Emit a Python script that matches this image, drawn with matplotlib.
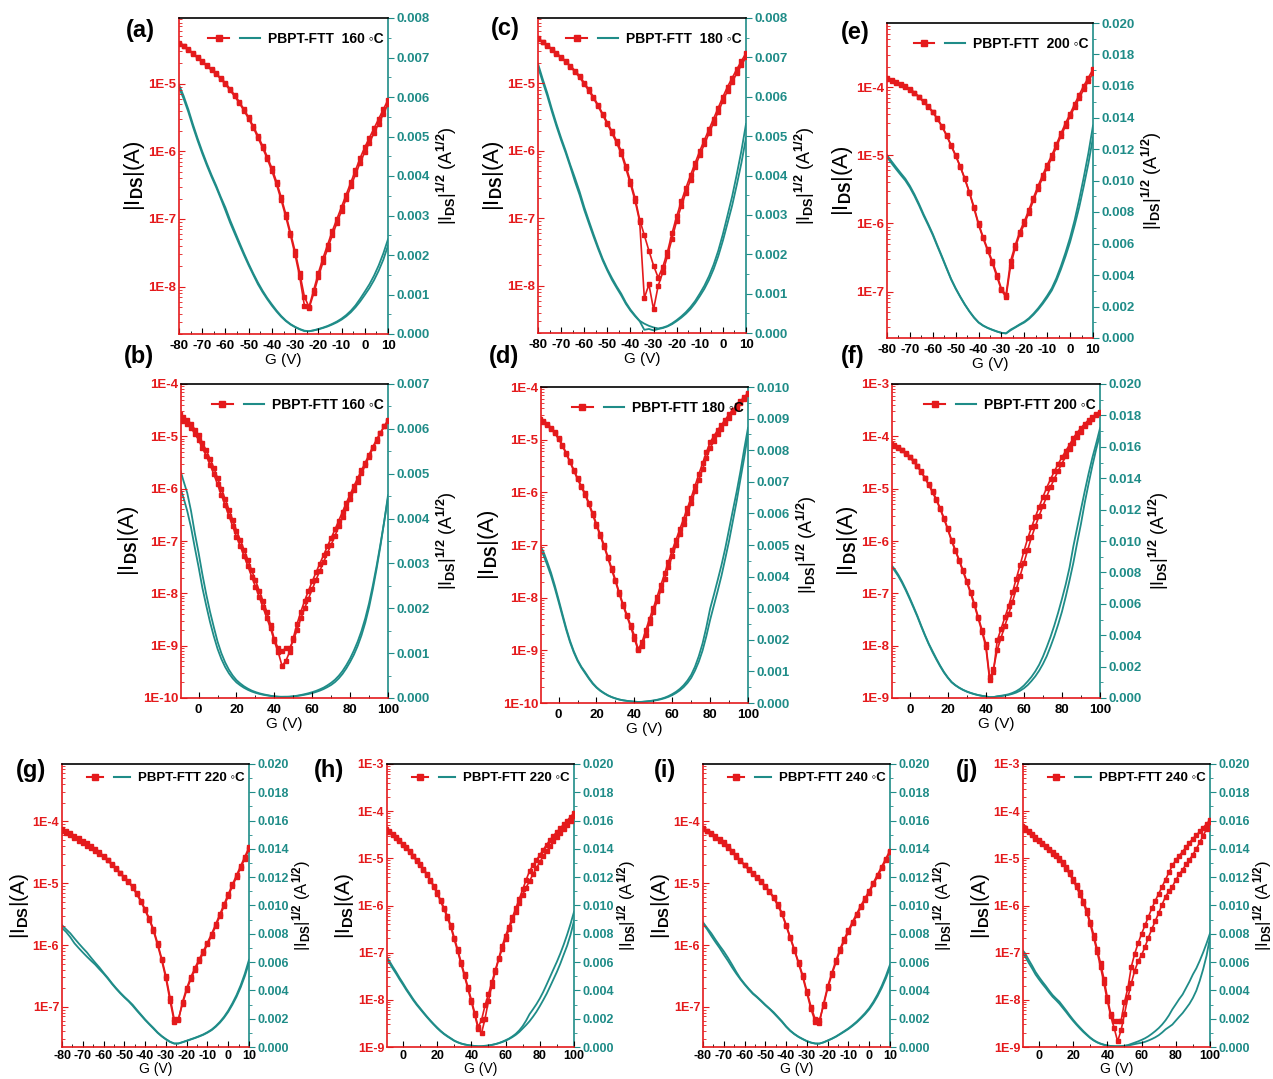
import numpy as np
import matplotlib.pyplot as plt
from matplotlib.lines import Line2D
from matplotlib.legend_handler import HandlerTuple
from matplotlib.ticker import FixedLocator, FuncFormatter, NullFormatter, FormatStrFormatter

plt.rcParams["font.family"] = ["Liberation Sans", "DejaVu Sans"]
plt.rcParams["font.weight"] = "bold"
plt.rcParams["axes.unicode_minus"] = False
plt.rcParams["mathtext.fontset"] = "custom"
plt.rcParams["mathtext.rm"] = "Liberation Sans:bold"
plt.rcParams["mathtext.bf"] = "Liberation Sans:bold"
plt.rcParams["mathtext.it"] = "Liberation Sans:bold"

RED = "#e41a1c"
TEAL = "#1f8c88"

# gate voltage sweeps, 2 V steps
vg_neg = np.arange(-80, 11, 2)
vg_pos = np.arange(-10, 101, 2)

# log10 |I_DS| (A), two sweep directions per device
a_s1 = [-4.40, -4.44, -4.49, -4.55, -4.61, -4.67, -4.73, -4.79, -4.85, -4.92, -4.99, -5.08, -5.17, -5.27, -5.38,
        -5.50, -5.63, -5.77, -5.92, -6.08, -6.25, -6.45, -6.68, -6.93, -7.20, -7.48, -7.80, -8.15, -8.30,
        -8.05, -7.80, -7.58, -7.38, -7.18, -7.00, -6.82, -6.64, -6.46, -6.28, -6.10, -5.94, -5.80, -5.66, -5.52,
        -5.38, -5.24]
a_s2 = [-4.41, -4.45, -4.50, -4.56, -4.62, -4.68, -4.74, -4.80, -4.86, -4.93, -5.01, -5.10, -5.19, -5.29, -5.40,
        -5.52, -5.65, -5.80, -5.95, -6.11, -6.29, -6.49, -6.72, -6.97, -7.24, -7.53, -7.86, -8.28, -8.32,
        -8.10, -7.86, -7.64, -7.44, -7.24, -7.06, -6.88, -6.70, -6.52, -6.34, -6.17, -6.01, -5.87, -5.73, -5.59,
        -5.45, -5.30]

c_s1 = [-4.33, -4.38, -4.43, -4.49, -4.55, -4.61, -4.67, -4.74, -4.81, -4.89, -4.99, -5.09, -5.20, -5.32, -5.45,
        -5.58, -5.71, -5.85, -6.00, -6.22, -6.45, -6.70, -7.02, -7.25, -7.48, -7.70, -7.88,
        -7.72, -7.50, -7.22, -6.97, -6.75, -6.55, -6.36, -6.18, -6.00, -5.84, -5.68, -5.52, -5.36, -5.20, -5.05,
        -4.92, -4.79, -4.67, -4.55]
c_s2 = [-4.34, -4.39, -4.44, -4.50, -4.56, -4.62, -4.68, -4.75, -4.83, -4.91, -5.01, -5.11, -5.22, -5.34, -5.47,
        -5.60, -5.74, -5.88, -6.04, -6.26, -6.49, -6.74, -7.05, -8.18, -7.98, -8.35, -8.00,
        -7.80, -7.56, -7.30, -7.04, -6.82, -6.62, -6.43, -6.24, -6.06, -5.90, -5.74, -5.58, -5.42, -5.26, -5.11,
        -4.98, -4.85, -4.73, -4.61]

e_s1 = [-3.87, -3.90, -3.93, -3.96, -3.99, -4.03, -4.08, -4.14, -4.21, -4.28, -4.36, -4.46, -4.57, -4.70, -4.85,
        -5.00, -5.16, -5.34, -5.54, -5.76, -6.00, -6.20, -6.38, -6.55, -6.75, -6.96, -7.05,
        -6.55, -6.32, -6.12, -5.97, -5.80, -5.62, -5.45, -5.29, -5.14, -5.00, -4.84, -4.68, -4.53, -4.39, -4.25,
        -4.11, -3.98, -3.86, -3.74]
e_s2 = [-3.88, -3.91, -3.94, -3.97, -4.00, -4.04, -4.09, -4.15, -4.22, -4.29, -4.37, -4.47, -4.58, -4.71, -4.86,
        -5.01, -5.17, -5.35, -5.55, -5.78, -6.02, -6.22, -6.40, -6.58, -6.78, -6.98, -7.08,
        -6.62, -6.36, -6.16, -6.01, -5.84, -5.66, -5.49, -5.33, -5.18, -5.04, -4.88, -4.72, -4.57, -4.43, -4.29,
        -4.16, -4.03, -3.91, -3.79]

b_s1 = [-4.58, -4.63, -4.68, -4.76, -4.87, -4.98, -5.12, -5.27, -5.43, -5.60, -5.80, -6.00, -6.20, -6.40, -6.60,
        -6.80, -6.98, -7.17, -7.36, -7.56, -7.75, -7.95, -8.15, -8.35, -8.60,
        -8.88, -9.05, -9.10, -9.05, -9.05, -8.90, -8.70, -8.48, -8.28, -8.10, -7.92, -7.74, -7.57, -7.40, -7.23,
        -7.07, -6.90, -6.72, -6.54, -6.36, -6.19, -6.03, -5.87, -5.71, -5.55, -5.39, -5.23, -5.08, -4.94, -4.81,
        -4.69]
b_s2 = [-4.65, -4.70, -4.76, -4.84, -4.95, -5.07, -5.22, -5.37, -5.54, -5.72, -5.92, -6.12, -6.32, -6.52, -6.72,
        -6.92, -7.10, -7.29, -7.48, -7.68, -7.87, -8.07, -8.27, -8.47, -8.67,
        -8.92, -9.12, -9.38, -9.30, -9.12, -8.85, -8.58, -8.35, -8.14, -7.95, -7.77, -7.60, -7.43, -7.27, -7.10,
        -6.94, -6.78, -6.61, -6.44, -6.27, -6.11, -5.95, -5.80, -5.65, -5.50, -5.35, -5.20, -5.06, -4.93, -4.81,
        -4.70]

d_s1 = [-4.60, -4.64, -4.70, -4.77, -4.86, -4.97, -5.10, -5.25, -5.41, -5.57, -5.73, -5.88, -6.02, -6.20, -6.40,
        -6.60, -6.80, -7.00, -7.22, -7.44, -7.66, -7.90, -8.12, -8.32, -8.52, -8.72,
        -8.98, -8.85, -8.62, -8.40, -8.20, -7.98, -7.76, -7.54, -7.32, -7.10, -6.90, -6.70, -6.50, -6.30, -6.10,
        -5.88, -5.66, -5.45, -5.24, -5.05, -4.93, -4.82, -4.72, -4.62, -4.52, -4.43, -4.35, -4.27, -4.19, -4.12]
d_s2 = [-4.62, -4.66, -4.72, -4.79, -4.88, -4.99, -5.12, -5.27, -5.43, -5.59, -5.75, -5.90, -6.05, -6.23, -6.43,
        -6.63, -6.83, -7.03, -7.25, -7.47, -7.69, -7.93, -8.15, -8.35, -8.55, -8.78,
        -9.00, -8.92, -8.70, -8.48, -8.28, -8.07, -7.86, -7.64, -7.42, -7.21, -7.00, -6.80, -6.60, -6.40, -6.20,
        -5.98, -5.77, -5.56, -5.35, -5.16, -5.02, -4.90, -4.79, -4.68, -4.58, -4.48, -4.39, -4.30, -4.22, -4.14]

f_s1 = [-4.14, -4.17, -4.21, -4.26, -4.32, -4.39, -4.47, -4.56, -4.67, -4.79, -4.92, -5.05, -5.20, -5.37, -5.56,
        -5.76, -5.98, -6.17, -6.36, -6.56, -6.76, -6.97, -7.20, -7.45, -7.70, -7.97,
        -8.60, -8.50, -7.90, -7.68, -7.46, -7.24, -6.98, -6.72, -6.46, -6.20, -5.95, -5.74, -5.54, -5.35, -5.16,
        -4.98, -4.82, -4.67, -4.53, -4.40, -4.28, -4.16, -4.03, -3.93, -3.84, -3.76, -3.69, -3.63, -3.58, -3.53]
f_s2 = [-4.15, -4.18, -4.22, -4.27, -4.33, -4.40, -4.48, -4.57, -4.68, -4.80, -4.93, -5.07, -5.22, -5.39, -5.58,
        -5.78, -6.00, -6.19, -6.38, -6.58, -6.79, -7.00, -7.23, -7.48, -7.74, -8.02,
        -8.65, -8.45, -8.08, -7.85, -7.62, -7.40, -7.16, -6.92, -6.67, -6.42, -6.17, -5.93, -5.72, -5.52, -5.33,
        -5.15, -4.97, -4.81, -4.66, -4.52, -4.38, -4.25, -4.13, -4.01, -3.91, -3.81, -3.73, -3.66, -3.60, -3.55]

g_s1 = [-4.13, -4.16, -4.19, -4.23, -4.27, -4.31, -4.35, -4.40, -4.45, -4.50, -4.56, -4.62, -4.69, -4.76, -4.83,
        -4.90, -4.97, -5.05, -5.16, -5.28, -5.42, -5.57, -5.74, -5.97, -6.22, -6.50, -6.85, -7.20, -7.22,
        -6.92, -6.70, -6.52, -6.37, -6.23, -6.10, -5.96, -5.82, -5.66, -5.50, -5.34, -5.18, -5.02, -4.87, -4.72,
        -4.57, -4.42]
g_s2 = [-4.15, -4.18, -4.22, -4.27, -4.31, -4.35, -4.39, -4.43, -4.47, -4.52, -4.57, -4.63, -4.70, -4.77, -4.84,
        -4.91, -4.98, -5.07, -5.18, -5.30, -5.44, -5.59, -5.77, -6.00, -6.25, -6.54, -6.90, -7.24, -7.20,
        -6.95, -6.73, -6.55, -6.40, -6.26, -6.13, -5.99, -5.85, -5.69, -5.53, -5.37, -5.21, -5.05, -4.90, -4.75,
        -4.60, -4.45]

h_s1 = [-4.38, -4.43, -4.49, -4.55, -4.62, -4.69, -4.77, -4.85, -4.94, -5.03, -5.12, -5.22, -5.33, -5.45, -5.58,
        -5.72, -5.88, -6.05, -6.22, -6.42, -6.68, -6.93, -7.20, -7.46, -7.73, -8.00, -8.28, -8.58,
        -8.42, -8.12, -7.88, -7.62, -7.37, -7.12, -6.86, -6.64, -6.45, -6.25, -6.06, -5.86, -5.66, -5.46, -5.27,
        -5.15, -5.04, -4.93, -4.82, -4.71, -4.61, -4.52, -4.44, -4.36, -4.28, -4.20, -4.12, -4.04]
h_s2 = [-4.40, -4.45, -4.51, -4.57, -4.64, -4.71, -4.79, -4.87, -4.96, -5.05, -5.14, -5.24, -5.35, -5.47, -5.60,
        -5.75, -5.91, -6.08, -6.26, -6.46, -6.72, -6.97, -7.24, -7.50, -7.77, -8.04, -8.32, -8.62,
        -8.70, -8.40, -8.02, -7.70, -7.40, -7.14, -6.92, -6.71, -6.50, -6.31, -6.13, -5.95, -5.77, -5.62, -5.48,
        -5.34, -5.21, -5.08, -4.96, -4.85, -4.74, -4.64, -4.55, -4.46, -4.37, -4.29, -4.20, -4.10]

i_s1 = [-4.11, -4.15, -4.19, -4.24, -4.29, -4.34, -4.40, -4.47, -4.55, -4.63, -4.70, -4.77, -4.84, -4.90, -4.97,
        -5.05, -5.13, -5.22, -5.34, -5.48, -5.67, -5.87, -6.07, -6.28, -6.49, -6.75, -7.00, -7.20, -7.26,
        -6.95, -6.67, -6.45, -6.25, -6.06, -5.90, -5.76, -5.62, -5.49, -5.36, -5.24, -5.12, -4.99, -4.86, -4.73,
        -4.60, -4.47]
i_s2 = [-4.12, -4.16, -4.21, -4.26, -4.31, -4.37, -4.43, -4.50, -4.57, -4.64, -4.71, -4.78, -4.85, -4.91, -4.98,
        -5.06, -5.14, -5.24, -5.36, -5.50, -5.69, -5.89, -6.09, -6.30, -6.52, -6.78, -7.04, -7.24, -7.22,
        -6.98, -6.70, -6.48, -6.28, -6.09, -5.93, -5.79, -5.65, -5.52, -5.39, -5.27, -5.15, -5.02, -4.89, -4.76,
        -4.63, -4.50]

j_s1 = [-4.32, -4.36, -4.42, -4.48, -4.55, -4.61, -4.67, -4.73, -4.80, -4.87, -4.93, -4.99, -5.08, -5.18, -5.30,
        -5.43, -5.57, -5.72, -5.90, -6.10, -6.35, -6.62, -6.92, -7.22, -7.55, -7.95, -8.30,
        -8.45, -8.45, -8.45, -8.05, -7.75, -7.30, -7.02, -6.80, -6.60, -6.42, -6.24, -6.06, -5.90, -5.75, -5.60,
        -5.45, -5.30, -5.15, -5.04, -4.94, -4.86, -4.76, -4.67, -4.58, -4.51, -4.43, -4.35, -4.27, -4.19]
j_s2 = [-4.34, -4.39, -4.45, -4.51, -4.58, -4.64, -4.70, -4.76, -4.83, -4.90, -4.96, -5.03, -5.12, -5.22, -5.34,
        -5.47, -5.61, -5.77, -5.95, -6.15, -6.40, -6.68, -6.98, -7.30, -7.65, -8.02, -8.35,
        -8.60, -8.88, -8.65, -8.30, -7.95, -7.65, -7.38, -7.18, -7.05, -6.88, -6.68, -6.50, -6.33, -6.16, -5.98,
        -5.81, -5.70, -5.60, -5.46, -5.34, -5.24, -5.13, -5.03, -4.92, -4.80, -4.66, -4.52, -4.38, -4.22]

# x tick values for the two sweep ranges
ticks_neg = [-80, -70, -60, -50, -40, -30, -20, -10, 0, 10]
ticks_pos = [0, 20, 40, 60, 80, 100]

W, H = 1273, 1079
fig = plt.figure(figsize=(W / 100, H / 100), dpi=100)


def px_rect(x0, y0, x1, y1):
    return [x0 / W, 1 - y1 / H, (x1 - x0) / W, (y1 - y0) / H]


def inside(vals, lo, hi):
    eps = 1e-9 * max(abs(lo), abs(hi), 1e-12)
    return [v for v in vals if lo - eps <= v <= hi + eps]


panels = [
    dict(tag="(a)", tag_xy=(126, 30), box=(179, 18, 388, 334), vg=vg_neg, sweeps=(a_s1, a_s2),
         ylog=(-8.70, -4.03), rmax=0.008, rstep=0.001, legend="PBPT-FTT  160 \u25e6C", big=True),
    dict(tag="(c)", tag_xy=(491, 28), box=(538, 18, 746, 333), vg=vg_neg, sweeps=(c_s1, c_s2),
         ylog=(-8.70, -4.03), rmax=0.008, rstep=0.001, legend="PBPT-FTT  180 \u25e6C", big=True),
    dict(tag="(e)", tag_xy=(841, 33), box=(887, 23, 1093, 338), vg=vg_neg, sweeps=(e_s1, e_s2),
         ylog=(-7.68, -3.06), rmax=0.020, rstep=0.002, legend="PBPT-FTT  200 \u25e6C", big=True),
    dict(tag="(b)", tag_xy=(124, 356), box=(181, 384, 388, 698), vg=vg_pos, sweeps=(b_s1, b_s2),
         ylog=(-10, -4), rmax=0.007, rstep=0.001, legend="PBPT-FTT 160 \u25e6C", big=True),
    dict(tag="(d)", tag_xy=(489, 357), box=(541, 387, 748, 703), vg=vg_pos, sweeps=(d_s1, d_s2),
         ylog=(-10, -4), rmax=0.010, rstep=0.001, legend="PBPT-FTT 180 \u25e6C", big=True),
    dict(tag="(f)", tag_xy=(841, 356), box=(892, 384, 1100, 698), vg=vg_pos, sweeps=(f_s1, f_s2),
         ylog=(-9, -3), rmax=0.020, rstep=0.002, legend="PBPT-FTT 200 \u25e6C", big=True),
    dict(tag="(g)", tag_xy=(16, 771), box=(62, 764, 249, 1047), vg=vg_neg, sweeps=(g_s1, g_s2),
         ylog=(-7.65, -3.07), rmax=0.020, rstep=0.002, legend="PBPT-FTT 220 \u25e6C", big=False),
    dict(tag="(h)", tag_xy=(314, 771), box=(387, 764, 574, 1047), vg=vg_pos, sweeps=(h_s1, h_s2),
         ylog=(-9, -3), rmax=0.020, rstep=0.002, legend="PBPT-FTT 220 \u25e6C", big=False),
    dict(tag="(i)", tag_xy=(654, 771), box=(703, 764, 890, 1047), vg=vg_neg, sweeps=(i_s1, i_s2),
         ylog=(-7.65, -3.07), rmax=0.020, rstep=0.002, legend="PBPT-FTT 240 \u25e6C", big=False),
    dict(tag="(j)", tag_xy=(956, 771), box=(1023, 764, 1210, 1047), vg=vg_pos, sweeps=(j_s1, j_s2),
         ylog=(-9, -3), rmax=0.020, rstep=0.002, legend="PBPT-FTT 240 \u25e6C", big=False),
]

decade_fmt = FuncFormatter(lambda v, _: "1E%d" % int(round(np.log10(v))))

for p in panels:
    big = p["big"]
    ax = fig.add_axes(px_rect(*p["box"]))
    ax2 = ax.twinx()
    ax.set_zorder(ax2.get_zorder() + 1)
    ax.patch.set_visible(False)

    for s in p["sweeps"]:
        ids = 10.0 ** np.asarray(s)
        ax2.plot(p["vg"], np.sqrt(ids), color=TEAL, lw=1.3)
        ax.plot(p["vg"], ids, color=RED, lw=1.2, marker="s", ms=3.3, mec=RED, mfc=RED)

    tick_fs = 9.5 if big else 9

    # left: log current, decade labels only
    lo, hi = p["ylog"]
    ax.set_yscale("log")
    ax.set_ylim(10.0 ** lo, 10.0 ** hi)
    decades = range(int(np.floor(lo)), int(np.ceil(hi)) + 1)
    major = inside([10.0 ** k for k in decades], 10.0 ** lo, 10.0 ** hi)
    minor = inside([m * 10.0 ** k for k in decades for m in range(2, 10)], 10.0 ** lo, 10.0 ** hi)
    ax.yaxis.set_major_locator(FixedLocator(major))
    ax.yaxis.set_minor_locator(FixedLocator(minor))
    ax.yaxis.set_major_formatter(decade_fmt)
    ax.yaxis.set_minor_formatter(NullFormatter())

    if p["vg"] is vg_neg:
        ax.set_xlim(-80, 10)
        ax.xaxis.set_major_locator(FixedLocator(ticks_neg))
        ax.xaxis.set_minor_locator(FixedLocator([t + 5 for t in ticks_neg[:-1]]))
    else:
        ax.set_xlim(-9.3, 100)
        ax.xaxis.set_major_locator(FixedLocator(ticks_pos))
        ax.xaxis.set_minor_locator(FixedLocator([t + 10 for t in ticks_pos[:-1]]))

    ax.tick_params(axis="y", which="both", direction="in", colors=RED, labelsize=tick_fs, pad=2)
    ax.tick_params(axis="y", which="major", length=4)
    ax.tick_params(axis="y", which="minor", length=2)
    ax.tick_params(axis="x", which="both", direction="in", color="k", labelcolor="k",
                   labelsize=tick_fs, pad=4 if big else 2, top=False)
    ax.tick_params(axis="x", which="major", length=4)
    ax.tick_params(axis="x", which="minor", length=2)

    # right: square-root current, linear
    ax2.set_ylim(0, p["rmax"])
    n_steps = int(round(p["rmax"] / p["rstep"]))
    ax2.yaxis.set_major_locator(FixedLocator([k * p["rstep"] for k in range(n_steps + 1)]))
    ax2.yaxis.set_minor_locator(FixedLocator([(k + 0.5) * p["rstep"] for k in range(n_steps)]))
    ax2.yaxis.set_major_formatter(FormatStrFormatter("%.3f"))
    ax2.tick_params(axis="y", which="both", direction="out", colors=TEAL, labelsize=tick_fs, pad=2)
    ax2.tick_params(axis="y", which="major", length=4)
    ax2.tick_params(axis="y", which="minor", length=2)

    for sp in ax.spines.values():
        sp.set_linewidth(1.2)
    ax.spines["left"].set_color(RED)
    ax.spines["bottom"].set_color(RED)
    ax.spines["top"].set_color("k")
    ax.spines["right"].set_visible(False)
    ax2.spines["right"].set_color(TEAL)
    ax2.spines["right"].set_linewidth(1.2)
    for name in ("left", "top", "bottom"):
        ax2.spines[name].set_visible(False)

    if big:
        ax.set_ylabel(r"|I$_{\mathbf{DS}}$|(A)", fontsize=16, labelpad=1)
        ax.set_xlabel("G (V)", fontsize=11, labelpad=1)
        ax2.set_ylabel(r"|I$_{\mathbf{DS}}$|$^{\mathbf{1/2}}$ (A$^{\mathbf{1/2}}$)", fontsize=13, labelpad=4)
    else:
        ax.set_ylabel(r"|I$_{\mathrm{DS}}$|(A)", fontsize=15, fontweight="normal", labelpad=1)
        ax.set_xlabel("G (V)", fontsize=10, labelpad=0)
        ax2.set_ylabel(r"|I$_{\mathbf{DS}}$|$^{\mathbf{1/2}}$ (A$^{\mathbf{1/2}}$)", fontsize=12, labelpad=1)

    h_red = Line2D([], [], color=RED, lw=1.5, marker="s", ms=5)
    h_teal = Line2D([], [], color=TEAL, lw=1.5)
    ax.legend([(h_red, h_teal)], [p["legend"]], handler_map={tuple: HandlerTuple(ndivide=None, pad=0.8)},
              loc="upper right", bbox_to_anchor=(1.0, 0.97 if big else 0.985), frameon=False,
              fontsize=10 if big else 9.5, handlelength=3.7 if big else 3.3,
              handletextpad=0.6, borderaxespad=0.0, borderpad=0.3)

    fig.text(p["tag_xy"][0] / W, 1 - p["tag_xy"][1] / H, p["tag"], fontsize=17, fontweight="bold",
             ha="left", va="center")

fig.savefig("out.png", dpi=100)
